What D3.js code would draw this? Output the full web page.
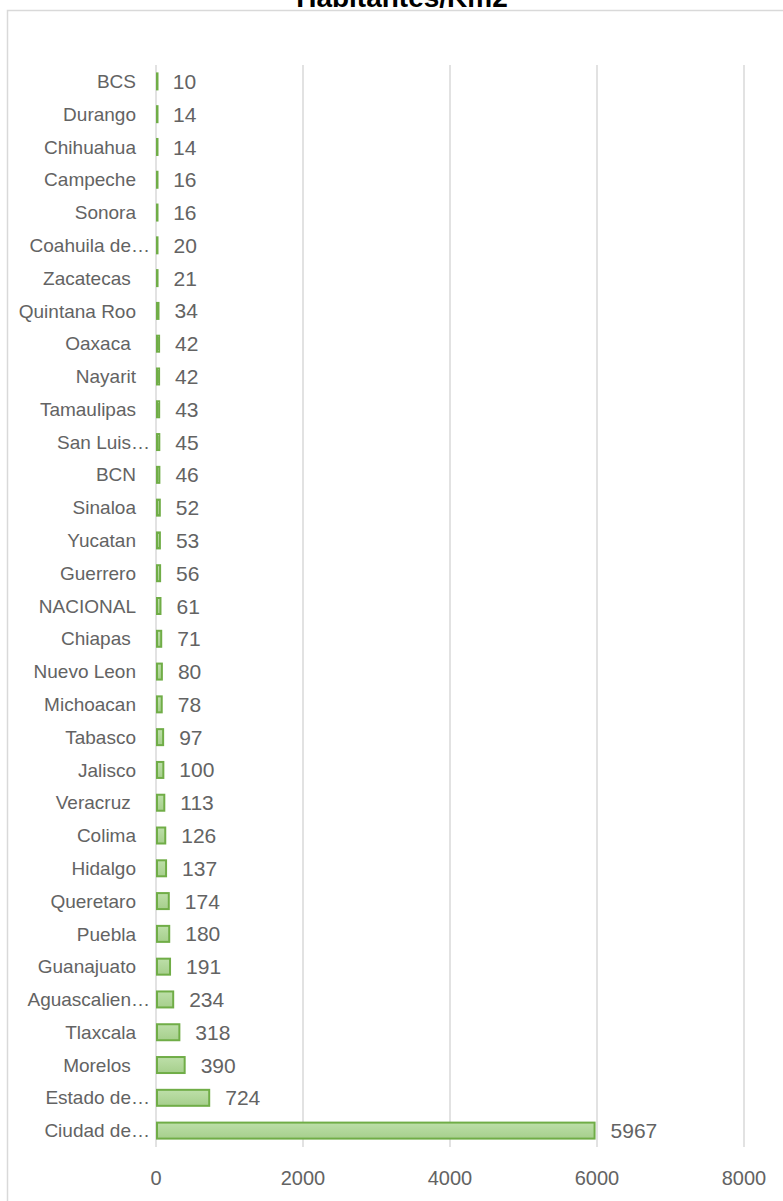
<!DOCTYPE html>
<html><head><meta charset="utf-8">
<script src="https://cdn.jsdelivr.net/npm/d3@7"></script>
<style>body{margin:0;background:#fff}svg{display:block}text{white-space:pre}</style>
</head><body>
<svg id="c" width="783" height="1201"></svg>
<script>
const title = "Habitantes/Km2";
const categories = ["BCS","Durango","Chihuahua","Campeche","Sonora","Coahuila de…","Zacatecas ","Quintana Roo","Oaxaca ","Nayarit","Tamaulipas","San Luis…","BCN","Sinaloa","Yucatan","Guerrero","NACIONAL","Chiapas ","Nuevo Leon","Michoacan","Tabasco","Jalisco","Veracruz ","Colima","Hidalgo","Queretaro","Puebla","Guanajuato","Aguascalien…","Tlaxcala","Morelos ","Estado de…","Ciudad de…"];
const values = [10,14,14,16,16,20,21,34,42,42,43,45,46,52,53,56,61,71,80,78,97,100,113,126,137,174,180,191,234,318,390,724,5967];
const ticks = [0,2000,4000,6000,8000];

const svg = d3.select("#c");
const font = "'Liberation Sans', Arial, sans-serif";
const grey = "#636363";

const defs = svg.append("defs");
const g = defs.append("linearGradient").attr("id","gr").attr("x1",0).attr("y1",0).attr("x2",0).attr("y2",1);
g.append("stop").attr("offset","0%").attr("stop-color","#bddfa9");
g.append("stop").attr("offset","100%").attr("stop-color","#a6cf8c");

svg.append("rect").attr("x",7.5).attr("y",10.5).attr("width",800).attr("height",1220)
  .attr("fill","none").attr("stroke","#d9d9d9").attr("stroke-width",1.5);

svg.append("text").attr("x",402).attr("y",7).attr("text-anchor","middle")
  .attr("font-family",font).attr("font-weight","bold").attr("font-size",28).attr("fill","#000").text(title);

const x = d3.scaleLinear().domain([0,8000]).range([156,744]);
const y = d3.scaleBand().domain(categories).range([65,1147]).paddingInner(0.5).paddingOuter(0.25);

// gridlines
svg.append("g").selectAll("line").data(ticks).join("line")
  .attr("x1",d=>x(d)).attr("x2",d=>x(d)).attr("y1",65).attr("y2",1147)
  .attr("stroke","#d9d9d9").attr("stroke-width",1.5);

// tick labels
svg.append("g").selectAll("text").data(ticks).join("text")
  .attr("x",d=>x(d)).attr("y",1185).attr("text-anchor","middle")
  .attr("font-family",font).attr("font-size",20).attr("fill",grey).text(d=>d);

const rows = categories.map((c,i)=>({c, v: values[i]}));

// bars
svg.append("g").selectAll("rect").data(rows).join("rect")
  .attr("x",x(0)+1).attr("y",d=>y(d.c)+y.bandwidth()/2-8)
  .attr("width",d=>Math.max(0.5, x(d.v)-x(0)-1)).attr("height",16)
  .attr("fill","url(#gr)").attr("stroke","#70ad47").attr("stroke-width",2);

// category labels
svg.append("g").selectAll("text").data(rows).join("text")
  .attr("x",d=>d.c.endsWith("…")?150:136).attr("y",d=>y(d.c)+y.bandwidth()/2)
  .attr("dy","0.35em").attr("text-anchor","end")
  .attr("font-family",font).attr("font-size",19).attr("fill",grey).text(d=>d.c);

// value labels
svg.append("g").selectAll("text").data(rows).join("text")
  .attr("x",d=>x(d.v)+16).attr("y",d=>y(d.c)+y.bandwidth()/2)
  .attr("dy","0.36em").attr("text-anchor","start")
  .attr("font-family",font).attr("font-size",21).attr("fill",grey).text(d=>d.v);
</script>
</body></html>
